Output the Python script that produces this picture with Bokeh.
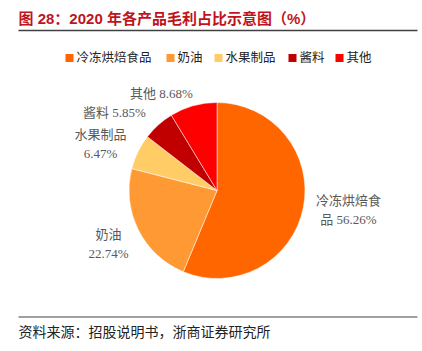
import math
from bokeh.plotting import figure
from bokeh.models import Range1d
from bokeh.core.properties import value
from bokeh.embed import file_html
from bokeh.resources import INLINE

# ---- data ----
categories = ["冷冻烘焙食品", "奶油", "水果制品", "酱料", "其他"]
shares = [56.26, 22.74, 6.47, 5.85, 8.68]
colors = ["#FF6600", "#FF9933", "#FFCC66", "#C00000", "#FF0000"]
label_lines = [["冷冻烘焙食", "品 56.26%"], ["奶油", "22.74%"], ["水果制品", "6.47%"],
               ["酱料 5.85%"], ["其他 8.68%"]]

title_text = "图 28：2020 年各产品毛利占比示意图（%）"
source_text = "资料来源：招股说明书，浙商证券研究所"

# ---- layout (pixel coords, top-left origin) ----
W, H = 422, 351
cx, cy, R = 216.5, 190.0, 88.0
label_pos = [(348, 200), (108, 234), (100, 134), (114, 112), (161, 93)]
legend_sq_x = [69, 170, 218, 292, 339]
legend_y = 57.5

SERIF = "'Liberation Serif', 'Noto Sans CJK SC', serif"
SANS = "'Liberation Sans', 'Noto Sans CJK SC', sans-serif"

def Y(y):
    return H - y

p = figure(width=W, height=H, output_backend="svg", toolbar_location=None,
           x_range=Range1d(0, W), y_range=Range1d(0, H), min_border=0)
p.axis.visible = False
p.grid.visible = False
p.outline_line_color = None
p.background_fill_color = "white"

# pie
total = sum(shares)
cum = 0.0
for s, c in zip(shares, colors):
    a0 = math.pi / 2 - 2 * math.pi * cum / total
    cum += s
    a1 = math.pi / 2 - 2 * math.pi * cum / total
    p.wedge(x=cx, y=Y(cy), radius=R, start_angle=a0, end_angle=a1,
            direction="clock", fill_color=c, line_color="white", line_width=0.5)

# pie labels
for lines, (lx, ly) in zip(label_lines, label_pos):
    for k, t in enumerate(lines):
        yy = ly + k * 18.5
        p.text(x=[lx], y=[Y(yy)], text=[t], text_align="center", text_baseline="middle",
               text_font=value(SERIF), text_font_size="13px", text_color="#595959")

# legend
for sx, cat, c in zip(legend_sq_x, categories, colors):
    p.rect(x=[sx], y=[Y(legend_y)], width=8, height=8, fill_color=c, line_color=None)
    p.text(x=[sx + 7], y=[Y(legend_y)], text=[cat], text_align="left", text_baseline="middle",
           text_font=value(SERIF), text_font_size="12.5px", text_color="#222222")

# title
p.text(x=[18], y=[Y(18)], text=[title_text], text_align="left", text_baseline="middle",
       text_font=value(SANS), text_font_size="15px", text_font_style="bold", text_color="#C0141C")
p.line(x=[18, 417], y=[Y(30), Y(30)], line_color="#404040", line_width=1.5)

# source
p.line(x=[18, 417], y=[Y(316.5), Y(316.5)], line_color="#808080", line_width=1.5)
p.text(x=[18], y=[Y(332)], text=[source_text], text_align="left", text_baseline="middle",
       text_font=value(SERIF), text_font_size="14px", text_color="#222222")

open("out.html", "w").write(file_html(p, INLINE))
